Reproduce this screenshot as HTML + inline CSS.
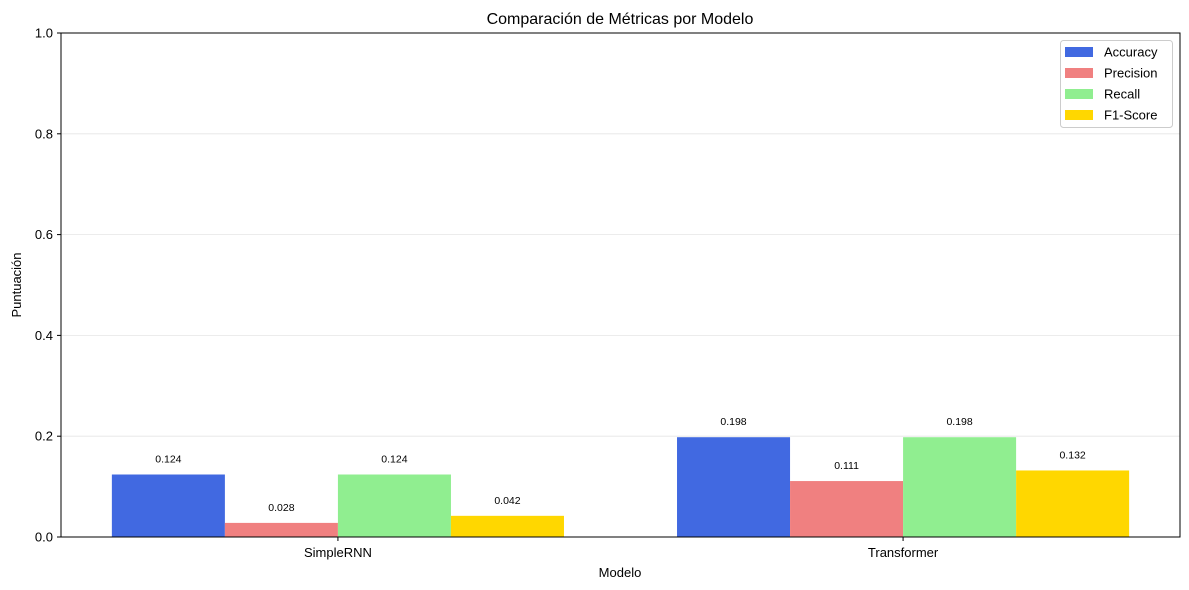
<!DOCTYPE html>
<html><head><meta charset="utf-8"><style>
body{margin:0;background:#fff;}
svg{display:block;font-family:"Liberation Sans","DejaVu Sans",sans-serif;}
</style></head><body>
<svg id="chart" width="1189" height="590">
<rect width="1189" height="590" fill="#fff"/>
<text x="620" y="24" font-size="16" text-anchor="middle">Comparación de Métricas por Modelo</text>
<g id="grid"></g><g id="bars"></g><g id="axes"></g>
<text x="620" y="577" font-size="13" text-anchor="middle">Modelo</text>
<text transform="translate(21,285) rotate(-90)" font-size="13" text-anchor="middle">Puntuación</text>
<g id="legend"></g>
</svg>
<script>
const categories=["SimpleRNN","Transformer"];
const metrics=["Accuracy","Precision","Recall","F1-Score"];
const colors=["#4169e1","#f08080","#90ee90","#ffd700"];
const accuracy=[0.124,0.198];
const precision=[0.028,0.111];
const recall=[0.124,0.198];
const f1=[0.042,0.132];
const yTicks=[0,0.2,0.4,0.6,0.8,1.0];
const series=[accuracy,precision,recall,f1];
const NS="http://www.w3.org/2000/svg";
const L=61,R=1180,T=33,B=537;
const xmin=-0.49,xmax=1.49;
const xs=v=>L+(v-xmin)/(xmax-xmin)*(R-L);
const ys=v=>B-v*(B-T);
function mk(p,tag,a){const e=document.createElementNS(NS,tag);for(const k in a)e.setAttribute(k,a[k]);p.appendChild(e);return e;}
const g=document.getElementById('grid'),b=document.getElementById('bars'),ax=document.getElementById('axes'),lg=document.getElementById('legend');
yTicks.forEach(t=>{
 const y=ys(t);
 const gl=mk(g,'line',{x1:L,x2:R,y1:y,y2:y,stroke:'#e5e5e5','stroke-width':0.8});
 
 
 mk(ax,'line',{x1:L-4,x2:L,y1:y,y2:y,stroke:'#000'});
 const tx=mk(ax,'text',{x:L-8,y:y+4.5,'font-size':13,'text-anchor':'end'});
 tx.textContent=t.toFixed(1);
 
 
});
const w=0.2;
categories.forEach((c,ci)=>{
 series.forEach((s,si)=>{
  const x0=xs(ci+(si-2)*w),x1=xs(ci+(si-1)*w);
  const r=mk(b,'rect',{x:x0,y:ys(s[ci]),width:x1-x0,height:ys(0)-ys(s[ci]),fill:colors[si]});
  
  
  const t=mk(b,'text',{x:(x0+x1)/2,y:ys(s[ci])-12,'font-size':10.5,'text-anchor':'middle'});
  t.textContent=s[ci].toFixed(3);
  
  
 });
 const x=xs(ci);
 mk(ax,'line',{x1:x,x2:x,y1:B,y2:B+4,stroke:'#000'});
 const tl=mk(ax,'text',{x:x,y:B+20,'font-size':13,'text-anchor':'middle'});
 tl.textContent=c;
 
 
});
const fr=mk(ax,'rect',{x:L,y:T,width:R-L,height:B-T,fill:'none',stroke:'#000','stroke-width':1});


mk(lg,'rect',{x:1060.5,y:40.5,width:112,height:87,rx:3,fill:'#fff',stroke:'#ccc'});
metrics.forEach((m,i)=>{
 const y=51+i*21;
 const sw=mk(lg,'rect',{x:1065,y:y-4,width:28,height:10,fill:colors[i]});
 
 
 const t=mk(lg,'text',{x:1104,y:y+5.5,'font-size':13});
 t.textContent=m;
 
 
});
</script>
</body></html>
